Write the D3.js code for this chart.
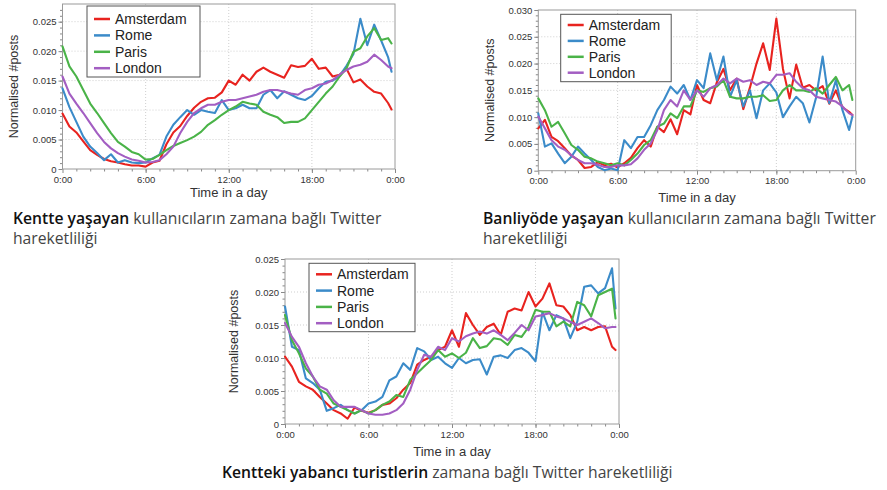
<!DOCTYPE html>
<html><head><meta charset="utf-8">
<script src="https://cdn.jsdelivr.net/npm/d3@7"></script>
<style>
html,body{margin:0;padding:0;background:#fff;}
svg{display:block;}
</style></head>
<body>
<svg id="c" width="887" height="490"></svg>
<script>
// ---------- DATA ----------
const hours = [0,0.5,1,1.5,2,2.5,3,3.5,4,4.5,5,5.5,6,6.5,7,7.5,8,8.5,9,9.5,10,10.5,11,11.5,12,12.5,13,13.5,14,14.5,15,15.5,16,16.5,17,17.5,18,18.5,19,19.5,20,20.5,21,21.5,22,22.5,23,23.5,23.75];
const cities = ["Amsterdam","Rome","Paris","London"];
const xTickLabels = ["0:00","6:00","12:00","18:00","0:00"];
const yTicksA = [0,0.005,0.010,0.015,0.020,0.025];
const yTicksB = [0,0.005,0.010,0.015,0.020,0.025,0.030];
const yTickLabelsA = ["0","0.005","0.010","0.015","0.020","0.025"];
const yTickLabelsB = ["0","0.005","0.010","0.015","0.020","0.025","0.030"];

// Panel 1: residents of the city
const res_ams = [.0094,.0072,.0062,.0047,.0032,.0024,.0017,.0013,.0011,.0008,.0006,.0006,.0004,.0011,.0014,.0042,.0062,.0073,.0090,.0104,.0114,.0120,.0121,.0130,.0150,.0143,.0160,.0150,.0165,.0172,.0165,.0160,.0155,.0176,.0173,.0175,.0187,.0170,.0172,.0157,.0160,.0170,.0147,.0152,.0140,.0131,.0128,.0112,.0101];
const res_rom = [.0137,.0105,.0080,.0055,.0038,.0027,.0015,.0025,.0011,.0015,.0011,.0010,.0011,.0018,.0024,.0055,.0075,.0088,.0100,.0092,.0100,.0097,.0095,.0117,.0100,.0103,.0109,.0103,.0103,.0126,.0134,.0120,.0132,.0126,.0120,.0117,.0124,.0137,.0148,.0150,.0158,.0175,.0195,.0255,.0210,.0245,.0218,.0190,.0165];
const res_par = [.0208,.0174,.0157,.0134,.0111,.0095,.0078,.0061,.0046,.0038,.0029,.0025,.0016,.0017,.0024,.0032,.0039,.0044,.0049,.0055,.0063,.0075,.0083,.0092,.0100,.0106,.0114,.0111,.0109,.0097,.0092,.0088,.0078,.0080,.0080,.0086,.0100,.0114,.0128,.0140,.0157,.0171,.0199,.0205,.0225,.0239,.0219,.0222,.0213];
const res_lon = [.0157,.0128,.0111,.0095,.0078,.0061,.0046,.0035,.0027,.0021,.0016,.0014,.0011,.0012,.0015,.0025,.0038,.0061,.0080,.0095,.0103,.0109,.0109,.0114,.0117,.0117,.0120,.0123,.0126,.0131,.0134,.0134,.0131,.0128,.0126,.0134,.0137,.0143,.0145,.0151,.0160,.0168,.0174,.0177,.0182,.0194,.0185,.0174,.0171];

// Panel 2: residents of the suburbs
const sub_ams = [.0079,.0095,.0063,.0055,.0042,.0028,.0020,.0005,.0007,.0016,.0010,.0013,.0006,.0014,.0024,.0042,.0057,.0045,.0082,.0072,.0096,.0068,.0113,.0105,.0160,.0132,.0126,.0165,.0190,.0150,.0172,.0115,.0155,.0200,.0238,.0188,.0284,.0190,.0135,.0198,.0155,.0160,.0150,.0158,.0125,.0150,.0118,.0110,.0104];
const sub_rom = [.0107,.0045,.0051,.0032,.0014,.0026,.0045,.0032,.0020,.0007,.0001,.0004,.0001,.0057,.0042,.0063,.0063,.0085,.0113,.0132,.0157,.0144,.0160,.0132,.0169,.0154,.0219,.0169,.0213,.0138,.0169,.0120,.0150,.0098,.0150,.0163,.0146,.0100,.0120,.0138,.0126,.0090,.0136,.0213,.0126,.0169,.0113,.0076,.0101];
const sub_par = [.0135,.0113,.0082,.0091,.0070,.0048,.0039,.0026,.0023,.0017,.0014,.0010,.0014,.0010,.0020,.0032,.0048,.0057,.0082,.0088,.0107,.0098,.0120,.0120,.0150,.0147,.0154,.0157,.0169,.0138,.0135,.0135,.0138,.0138,.0141,.0130,.0132,.0150,.0160,.0150,.0150,.0147,.0154,.0144,.0160,.0175,.0150,.0160,.0132];
const sub_lon = [.0101,.0079,.0057,.0045,.0039,.0029,.0020,.0014,.0014,.0011,.0007,.0007,.0010,.0010,.0012,.0023,.0039,.0051,.0076,.0113,.0132,.0120,.0150,.0132,.0150,.0138,.0154,.0160,.0172,.0163,.0172,.0166,.0169,.0160,.0166,.0163,.0179,.0179,.0182,.0166,.0154,.0150,.0138,.0135,.0132,.0129,.0120,.0107,.0104];

// Panel 3: foreign tourists in the city
const tou_ams = [.0102,.0087,.0064,.0057,.0052,.0041,.0031,.0021,.0016,.0008,.0025,.0020,.0017,.0021,.0029,.0031,.0039,.0052,.0062,.0090,.0097,.0102,.0112,.0117,.0142,.0117,.0168,.0150,.0135,.0147,.0152,.0135,.0170,.0175,.0172,.0200,.0178,.0190,.0213,.0180,.0178,.0165,.0142,.0147,.0142,.0147,.0148,.0117,.0112];
const tou_rom = [.0178,.0117,.0112,.0069,.0062,.0052,.0020,.0024,.0029,.0021,.0016,.0021,.0031,.0034,.0041,.0066,.0072,.0092,.0082,.0115,.0110,.0097,.0102,.0092,.0085,.0100,.0092,.0097,.0098,.0075,.0102,.0104,.0100,.0112,.0115,.0108,.0095,.0170,.0142,.0165,.0160,.0130,.0155,.0208,.0210,.0198,.0206,.0236,.0175];
const tou_par = [.0165,.0127,.0107,.0084,.0072,.0052,.0046,.0031,.0026,.0021,.0016,.0021,.0016,.0021,.0029,.0034,.0044,.0041,.0067,.0077,.0087,.0097,.0112,.0102,.0107,.0100,.0108,.0130,.0115,.0118,.0130,.0128,.0120,.0135,.0132,.0147,.0173,.0170,.0170,.0148,.0155,.0148,.0185,.0180,.0163,.0195,.0200,.0205,.0160];
const tou_lon = [.0153,.0132,.0117,.0092,.0072,.0057,.0052,.0036,.0026,.0026,.0026,.0021,.0016,.0014,.0014,.0016,.0021,.0031,.0052,.0082,.0105,.0102,.0117,.0112,.0130,.0125,.0133,.0137,.0140,.0137,.0142,.0135,.0127,.0138,.0150,.0142,.0163,.0165,.0168,.0163,.0160,.0155,.0150,.0155,.0160,.0153,.0145,.0147,.0147];

// ---------- STYLE ----------
const colors = ["#e8231f","#3b8bc9","#4ab348","#a35ec2"];
const svg = d3.select("#c");
const F = "'Liberation Sans', Arial, Helvetica, sans-serif";

function panel(o){
  const x = d3.scaleLinear().domain([0,24]).range([o.l,o.r]);
  const y = d3.scaleLinear().domain([0,o.ymax]).range([o.b,o.t]);
  const g = svg.append("g");
  // grid
  [6,12,18].forEach(h=>g.append("line").attr("x1",x(h)).attr("x2",x(h)).attr("y1",o.t).attr("y2",o.b)
     .attr("stroke","#cfcfcf").attr("stroke-dasharray","1,2"));
  o.yTicks.slice(1).forEach(v=>{ if(y(v)>o.t+1) g.append("line").attr("x1",o.l).attr("x2",o.r).attr("y1",y(v)).attr("y2",y(v))
     .attr("stroke","#cfcfcf").attr("stroke-dasharray","1,2");});
  // axes via d3
  const xa = g.append("g").attr("transform",`translate(0,${o.b})`)
    .call(d3.axisBottom(x).tickValues([0,6,12,18,24]).tickFormat((d,i)=>xTickLabels[i]).tickSize(4).tickPadding(3));
  const xm = g.append("g").attr("transform",`translate(0,${o.b})`)
    .call(d3.axisBottom(x).tickValues(d3.range(1,24)).tickFormat("").tickSize(2.5));
  const ya = g.append("g").attr("transform",`translate(${o.l},0)`)
    .call(d3.axisLeft(y).tickValues(o.yTicks).tickFormat((d,i)=>o.yLabels[i]).tickSize(4).tickPadding(2));
  const ym = g.append("g").attr("transform",`translate(${o.l},0)`)
    .call(d3.axisLeft(y).tickValues(d3.range(0.001,o.ymax,0.001)).tickFormat("").tickSize(2.5));
  [xa,xm,ya,ym].forEach(a=>{a.select(".domain").remove(); a.selectAll("line").attr("stroke","#888");
     a.selectAll("text").attr("fill","#333").style("font-family",F).style("font-size","9.5px");});
  // frame
  g.append("rect").attr("x",o.l).attr("y",o.t).attr("width",o.r-o.l).attr("height",o.b-o.t)
    .attr("fill","none").attr("stroke","#9a9a9a").attr("stroke-width",1);
  // lines
  const line = d3.line().x((d,i)=>x(hours[i])).y(d=>y(d)).curve(d3.curveLinear);
  o.series.forEach((s,k)=>{
    g.append("path").datum(s).attr("d",line).attr("fill","none").attr("stroke",colors[k])
      .attr("stroke-width",2.1).attr("stroke-linejoin","round").attr("stroke-linecap","round");
  });
  // legend
  const L = o.leg;
  g.append("rect").attr("x",L.x).attr("y",L.y).attr("width",L.w).attr("height",L.h)
    .attr("fill","#fff").attr("stroke","#555").attr("stroke-width",1);
  cities.forEach((c,k)=>{
    const yy = L.y0 + k*L.dy;
    g.append("line").attr("x1",L.x+7).attr("x2",L.x+23).attr("y1",yy).attr("y2",yy)
      .attr("stroke",colors[k]).attr("stroke-width",2.5);
    g.append("text").attr("x",L.x+28).attr("y",yy+5).text(c)
      .style("font-family",F).style("font-size","14px").attr("fill","#222");
  });
  // axis titles
  g.append("text").attr("transform",`translate(${o.ylx},${(o.t+o.b)/2}) rotate(-90)`).attr("text-anchor","middle")
    .text("Normalised #posts").style("font-family",F).style("font-size","12.5px").attr("fill","#333");
  g.append("text").attr("x",(o.l+o.r)/2).attr("y",o.xly).attr("text-anchor","middle")
    .text("Time in a day").style("font-family",F).style("font-size","13px").attr("fill","#333");
}

panel({l:62.5,r:395,t:4,b:169,ymax:0.028,yTicks:yTicksA,yLabels:yTickLabelsA,
  series:[res_ams,res_rom,res_par,res_lon],leg:{x:87,y:6,w:113,h:71,y0:19,dy:16.4},ylx:18,xly:197});
panel({l:538.3,r:855.7,t:10,b:170.7,ymax:0.030,yTicks:yTicksB,yLabels:yTickLabelsB,
  series:[sub_ams,sub_rom,sub_par,sub_lon],leg:{x:560.7,y:14.3,w:110.5,h:67.4,y0:25,dy:15.9},ylx:494,xly:202});
panel({l:285,r:619,t:259,b:424,ymax:0.025,yTicks:yTicksA,yLabels:yTickLabelsA,
  series:[tou_ams,tou_rom,tou_par,tou_lon],leg:{x:309,y:263.3,w:106,h:68.4,y0:274.3,dy:16.3},ylx:238,xly:456});

// captions
const CF = "'Open Sans', 'Noto Sans', sans-serif";
function caption(x,y,lines){
  lines.forEach((ln,i)=>{
    const t = svg.append("text").attr("x",x).attr("y",y+i*20).style("font-family",CF).style("font-size","15.7px");
    ln.forEach(seg=>t.append("tspan").text(seg[0]).attr("fill",seg[1]?"#111":"#444")
       .style("font-weight",seg[1]?"600":"400"));
  });
}
caption(13,224,[[["Kentte yaşayan",1],[" kullanıcıların zamana bağlı Twitter",0]],[["hareketliliği",0]]]);
caption(483,224,[[["Banliyöde yaşayan",1],[" kullanıcıların zamana bağlı Twitter",0]],[["hareketliliği",0]]]);
caption(222,478,[[["Kentteki yabancı turistlerin",1],[" zamana bağlı Twitter hareketliliği",0]]]);
</script>
</body></html>
